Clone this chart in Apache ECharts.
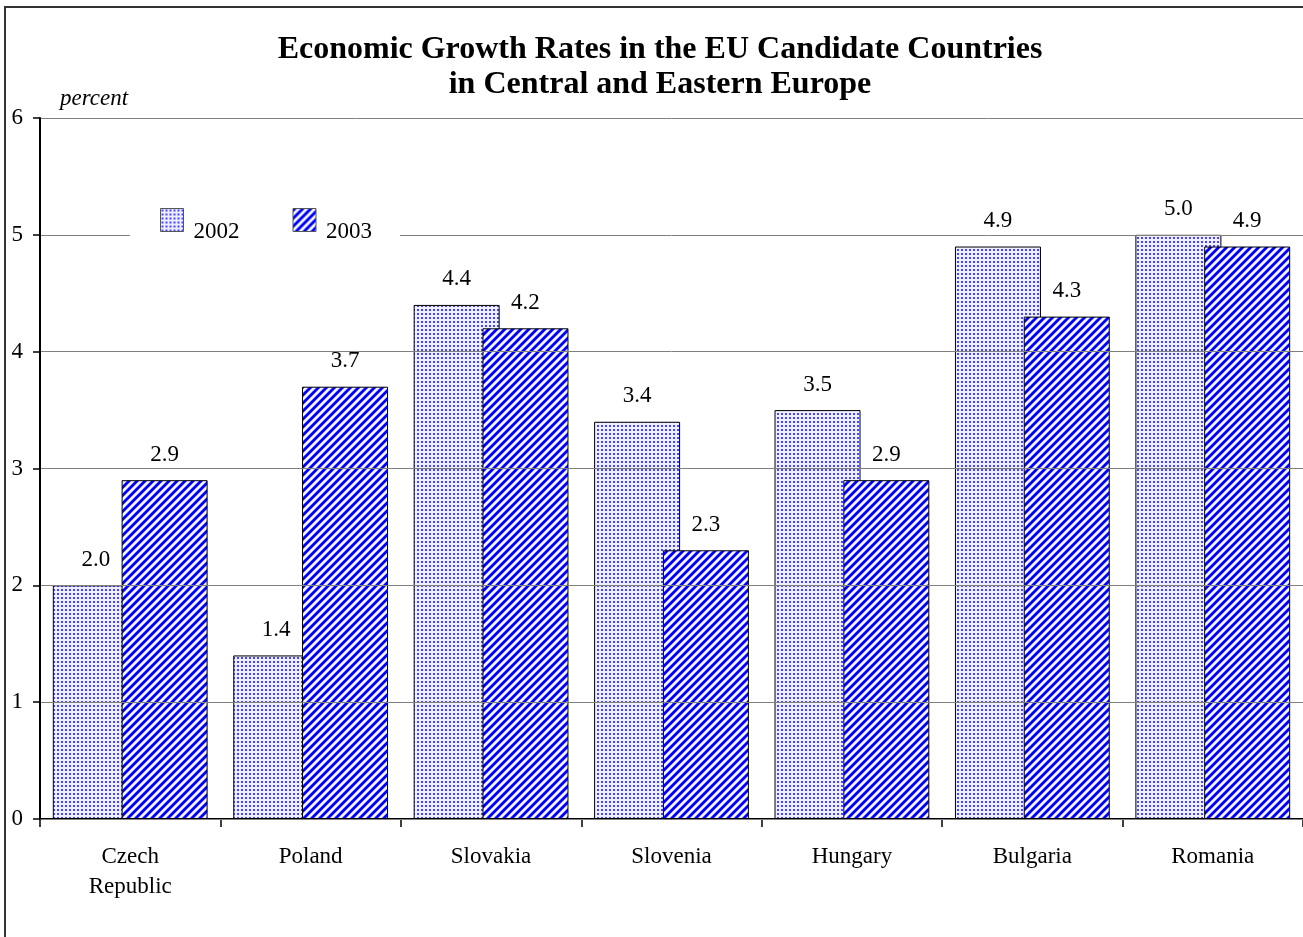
<!DOCTYPE html>
<html>
<head>
<meta charset="utf-8">
<script src="https://cdn.jsdelivr.net/npm/echarts@6/dist/echarts.min.js"></script>
<style>
  html, body { margin: 0; padding: 0; background: #fff; }
  #chart { width: 1303px; height: 937px; }
</style>
</head>
<body>
<div id="chart"></div>
<script>
// Real GDP growth, percent
const countries = ['Czech\nRepublic', 'Poland', 'Slovakia', 'Slovenia', 'Hungary', 'Bulgaria', 'Romania'];
const growth2002 = [2.0, 1.4, 4.4, 3.4, 3.5, 4.9, 5.0];
const growth2003 = [2.9, 3.7, 4.2, 2.3, 2.9, 4.3, 4.9];
const seriesNames = ['2002', '2003'];
const yTicks = [0, 1, 2, 3, 4, 5, 6];

const SERIF = '"Liberation Serif", "Times New Roman", serif';

// Fine dotted fill for the first year
function dotPattern() {
  const c = document.createElement('canvas');
  c.width = 4; c.height = 4;
  const g = c.getContext('2d');
  g.fillStyle = '#eeeeff';
  g.fillRect(0, 0, 4, 4);
  g.fillStyle = '#4646ff';
  g.fillRect(1, 1, 2, 2);
  return c;
}

// Diagonal "/" hatching for the second year
function stripePattern() {
  const c = document.createElement('canvas');
  c.width = 8; c.height = 8;
  const g = c.getContext('2d');
  const img = g.createImageData(8, 8);
  for (let y = 0; y < 8; y++) {
    for (let x = 0; x < 8; x++) {
      const k = (x + y) % 8;
      const i = (y * 8 + x) * 4;
      let r, gg, b;
      if (k < 3) { r = 0; gg = 0; b = 255; }
      else if (k === 3 || k === 7) { r = 120; gg = 120; b = 255; }
      else { r = 245; gg = 245; b = 255; }
      img.data[i] = r; img.data[i + 1] = gg; img.data[i + 2] = b; img.data[i + 3] = 255;
    }
  }
  g.putImageData(img, 0, 0);
  return c;
}

const fill2002 = { image: dotPattern(), repeat: 'repeat' };
const fill2003 = { image: stripePattern(), repeat: 'repeat' };

const chart = echarts.init(document.getElementById('chart'));

const valueLabel = {
  show: true,
  position: 'top',
  distance: 14,
  fontFamily: SERIF,
  fontSize: 23,
  color: '#000',
  formatter: p => p.value.toFixed(1)
};

chart.setOption({
  animation: false,
  backgroundColor: '#fff',
  title: {
    text: 'Economic Growth Rates in the EU Candidate Countries\nin Central and Eastern Europe',
    left: 655,
    textAlign: 'center',
    top: 27,
    textStyle: {
      fontFamily: SERIF,
      fontWeight: 'bold',
      fontSize: 32,
      lineHeight: 35,
      color: '#000'
    }
  },
  legend: {
    data: seriesNames,
    left: 130,
    top: 202,
    orient: 'horizontal',
    backgroundColor: '#fff',
    padding: [6, 28, 4, 30],
    itemWidth: 23,
    itemHeight: 23,
    itemGap: 53,
    icon: 'rect',
    itemStyle: { borderColor: '#555', borderWidth: 1 },
    formatter: name => '{t|' + name + '}',
    textStyle: {
      fontFamily: SERIF,
      fontSize: 23,
      color: '#000',
      rich: {
        t: {
          fontFamily: SERIF,
          fontSize: 23,
          color: '#000',
          padding: [24, 0, 0, 5]
        }
      }
    }
  },
  grid: {
    left: 40,
    top: 118,
    width: 1265,
    bottom: 118,
    containLabel: false
  },
  xAxis: {
    type: 'category',
    data: countries,
    boundaryGap: true,
    axisLine: { lineStyle: { color: '#000', width: 2 } },
    axisTick: { show: true, alignWithLabel: false, length: 8, lineStyle: { color: '#000', width: 1.5 } },
    axisLabel: {
      margin: 23,
      fontFamily: SERIF,
      fontSize: 23,
      lineHeight: 30,
      color: '#000',
      interval: 0
    }
  },
  yAxis: {
    type: 'value',
    min: yTicks[0],
    max: yTicks[yTicks.length - 1],
    interval: 1,
    z: 3,
    axisLine: { show: true, lineStyle: { color: '#000', width: 2 } },
    axisTick: { show: true, length: 7, lineStyle: { color: '#000', width: 1.5 } },
    axisLabel: {
      margin: 17,
      fontFamily: SERIF,
      fontSize: 23,
      color: '#000'
    },
    splitLine: { show: true, lineStyle: { color: '#808080', width: 1 } }
  },
  graphic: [
    {
      type: 'polyline',
      shape: { points: [[5, 940], [5, 7], [1310, 7]] },
      style: { stroke: '#333', lineWidth: 2, fill: null },
      silent: true
    },
    {
      type: 'text',
      left: 60,
      top: 87,
      style: {
        text: 'percent',
        font: 'italic 23px ' + SERIF,
        fill: '#000'
      }
    }
  ],
  series: [
    {
      name: seriesNames[0],
      type: 'bar',
      data: growth2002,
      barWidth: 86,
      barGap: '-20%',
      z: 2,
      itemStyle: { color: fill2002, borderColor: '#000', borderWidth: 1 },
      label: valueLabel
    },
    {
      name: seriesNames[1],
      type: 'bar',
      data: growth2003,
      barWidth: 86,
      barGap: '-20%',
      z: 2,
      itemStyle: { color: fill2003, borderColor: '#000', borderWidth: 1 },
      label: valueLabel
    }
  ]
});
</script>
</body>
</html>
